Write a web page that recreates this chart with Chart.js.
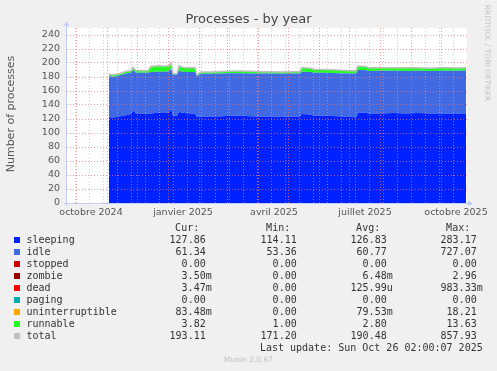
<!DOCTYPE html>
<html>
<head>
<meta charset="utf-8">
<title>Processes - by year</title>
<script src="https://cdn.jsdelivr.net/npm/chart.js@4.4.1/dist/chart.umd.min.js"></script>
<style>
  html, body { margin: 0; padding: 0; background: #f0f0f0; }
  #wrap { position: relative; width: 497px; height: 371px; overflow: hidden; background: #f0f0f0; font-family: 'DejaVu Sans', sans-serif; }
  #chart { position: absolute; left: 0; top: 0; }
  .t { position: absolute; white-space: pre; }
  .mono { font-family: 'DejaVu Sans Mono', monospace; font-size: 10px; line-height: 12px; height: 12px; color: #333; }
</style>
</head>
<body>
<div id="wrap">
  <canvas id="chart" width="497" height="371"></canvas>
  <div class="t" style="left:0;width:497px;top:11px;line-height:16px;text-align:center;font-size:13px;color:#444;">Processes - by year</div>
  <div class="t" style="left:-64px;width:150px;top:107px;height:14px;line-height:14px;text-align:center;font-size:11px;color:#555;transform:rotate(-90deg);">Number of processes</div>
  <div class="t" style="left:427px;width:120px;top:48px;height:10px;line-height:10px;text-align:center;font-size:7.5px;color:#c4c4c4;transform:rotate(90deg);">RRDTOOL / TOBI OETIKER</div>
  <div class="t" style="left:0;width:497px;top:355px;line-height:10px;text-align:center;font-size:7.5px;color:#c0c0c0;">Munin 2.0.67</div>
  <div id="legend"></div>
</div>
<script>
// days counted from 1 Oct 2024 (one pixel per day on the yearly graph)
const days = [33, 38, 44, 50, 55, 57, 60, 66, 72, 75, 82, 88, 93, 95, 97, 101, 103, 107, 113, 119,
  121, 125, 135, 145, 155, 165, 175, 185, 195, 205, 215, 224, 226, 235, 238, 250, 262, 274, 280, 282,
  290, 292, 305, 318, 330, 342, 355, 368, 380, 390];

const sleeping = [122.5, 122, 124, 125.5, 127, 132, 128, 128, 127.5, 128, 129, 128.5, 129, 135, 124, 124.5, 130, 129, 128, 128,
  122.5, 123.5, 123.5, 124, 124.5, 124.5, 124, 123.5, 123.5, 123, 123.5, 123.5, 127, 126.5, 124.5, 124.5, 124, 123, 122.5, 129,
  129, 128, 128, 128.5, 128, 128.5, 128, 128, 128, 127.9];

const idle = [58.5, 58.5, 58.5, 59.5, 59, 58, 58, 58, 58.5, 59, 58.5, 59, 59, 57, 59, 59, 59, 58.5, 59, 59,
  58.5, 61, 61, 61, 61, 61, 61, 61.5, 61.5, 61.5, 61.5, 61.5, 60.5, 60.5, 61.5, 61.5, 61.5, 62, 62.5, 61,
  61, 60.5, 60.8, 60.5, 60.5, 60.5, 60.5, 60.8, 60.8, 61.3];

const runnable = [2.5, 2.5, 2.5, 3, 3, 3.5, 3, 2.8, 3, 8, 8.5, 8, 8, 8, 1.5, 1.5, 7, 6, 6, 6.5,
  2, 2.5, 2.5, 2.8, 3, 3, 3, 2.5, 2.5, 2.5, 2.5, 2.5, 6, 5.5, 4.5, 4.5, 4.5, 4, 4, 5.5,
  5, 4.5, 4.5, 4, 4.5, 4, 4, 4.5, 4, 3.8];

const total = [183.6, 183.1, 185.1, 188.1, 189.1, 193.6, 189.1, 188.9, 189.1, 195.1, 196.1, 195.6, 196.1, 200.1, 184.6, 185.1, 196.1, 193.6, 193.1, 193.6,
  183.1, 187.1, 187.1, 187.9, 188.6, 188.6, 188.1, 187.6, 187.6, 187.1, 187.6, 187.6, 193.6, 192.6, 190.6, 190.6, 190.1, 189.1, 189.1, 195.6,
  195.1, 193.1, 193.4, 193.1, 193.1, 193.1, 192.6, 193.4, 192.9, 193.11];

// x axis: labels sit mid-month, red lines at month starts, grey ones every two weeks
const xLabels = ['octobre 2024', 'janvier 2025', 'avril 2025', 'juillet 2025', 'octobre 2025'];
const xLabelDays = [15, 107, 198, 289, 380];
const monthStarts = [0, 31, 61, 92, 123, 151, 182, 212, 243, 273, 304, 335, 365];
const minorDays = [-1, 13, 27, 41, 55, 69, 83, 97, 111, 125, 139, 153, 167, 181, 195, 209, 223, 237, 251, 265, 279, 293, 307, 321, 335, 349, 363, 377];

// legend table
const names = ['sleeping', 'idle', 'stopped', 'zombie', 'dead', 'paging', 'uninterruptible', 'runnable', 'total'];
const colors = ['#0022ff', '#4169e1', '#cc0000', '#990000', '#ff0000', '#00aaaa', '#ffa500', '#22ff22', '#c0c0c0'];
const curVals = ['127.86', '61.34', '0.00', '3.50m', '3.47m', '0.00', '83.48m', '3.82', '193.11'];
const minVals = ['114.11', '53.36', '0.00', '0.00', '0.00', '0.00', '0.00', '1.00', '171.20'];
const avgVals = ['126.83', '60.77', '0.00', '6.48m', '125.99u', '0.00', '79.53m', '2.80', '190.48'];
const maxVals = ['283.17', '727.07', '0.00', '2.96', '983.33m', '0.00', '18.21', '13.63', '857.93'];

const axisColor = '#c4cbf5';
const majorGrid = 'rgba(236,120,120,0.7)';
const minorGrid = 'rgba(185,185,185,0.6)';

function pts(arr) {
  return arr.map((v, i) => ({ x: days[i], y: v }));
}

function area(label, arr, color, fill) {
  return {
    label: label,
    data: pts(arr),
    stack: 'procs',
    fill: fill,
    backgroundColor: color,
    borderColor: 'rgba(0,0,0,0)',
    borderWidth: 0,
    pointRadius: 0,
    tension: 0
  };
}

const frame = {
  id: 'frame',
  beforeDraw(chart) {
    const { ctx, chartArea: a } = chart;
    ctx.save();
    ctx.fillStyle = '#ffffff';
    ctx.fillRect(a.left, a.top, a.right - a.left, a.bottom - a.top);
    ctx.restore();
  },
  afterDraw(chart) {
    const { ctx, chartArea: a } = chart;
    const x0 = a.left - 0.5, y0 = a.bottom + 0.5;
    ctx.save();
    ctx.strokeStyle = axisColor;
    ctx.fillStyle = axisColor;
    ctx.lineWidth = 1;
    ctx.beginPath();
    ctx.moveTo(x0, a.bottom + 3);
    ctx.lineTo(x0, a.top - 3);
    ctx.moveTo(a.left - 3, y0);
    ctx.lineTo(a.right + 2, y0);
    ctx.stroke();
    ctx.beginPath();
    ctx.moveTo(x0 - 3, a.top - 2);
    ctx.lineTo(x0 + 3, a.top - 2);
    ctx.lineTo(x0, a.top - 7);
    ctx.closePath();
    ctx.fill();
    ctx.beginPath();
    ctx.moveTo(a.right + 1, y0 - 3);
    ctx.lineTo(a.right + 1, y0 + 3);
    ctx.lineTo(a.right + 6, y0);
    ctx.closePath();
    ctx.fill();
    ctx.restore();
  }
};

const xTickSet = Array.from(new Set(monthStarts.concat(minorDays, xLabelDays))).sort((a, b) => a - b);

new Chart(document.getElementById('chart'), {
  type: 'line',
  data: {
    datasets: [
      area('sleeping', sleeping, '#0022ff', 'origin'),
      area('idle', idle, '#4169e1', '-1'),
      area('runnable', runnable, '#22ff22', '-1'),
      {
        label: 'total',
        data: pts(total),
        stack: 'total',
        fill: false,
        borderColor: '#c0c0c0',
        borderWidth: 1.5,
        pointRadius: 0,
        tension: 0,
        order: -1
      }
    ]
  },
  options: {
    responsive: false,
    animation: false,
    events: [],
    layout: { padding: { left: 0, right: 30, top: 28, bottom: 0 } },
    plugins: {
      legend: { display: false },
      tooltip: { enabled: false },
      title: { display: false }
    },
    scales: {
      x: {
        type: 'linear',
        min: -9,
        max: 391,
        afterFit: s => { s.height = 168; s.paddingLeft = 0; s.paddingRight = 0; },
        afterBuildTicks: s => { s.ticks = xTickSet.map(v => ({ value: v })); },
        border: { display: false, dash: [1, 2] },
        grid: {
          z: 1,
          drawTicks: false,
          lineWidth: 1,
          color: ctx => {
            const v = ctx.tick ? ctx.tick.value : null;
            if (monthStarts.includes(v)) return majorGrid;
            if (minorDays.includes(v)) return minorGrid;
            return 'rgba(0,0,0,0)';
          }
        },
        ticks: {
          autoSkip: false,
          maxRotation: 0,
          padding: 4,
          color: '#555',
          font: { family: 'DejaVu Sans', size: 9.5 },
          callback: v => {
            const i = xLabelDays.indexOf(v);
            return i >= 0 ? xLabels[i] : '';
          }
        }
      },
      y: {
        stacked: true,
        min: 0,
        max: 250,
        afterFit: s => { s.width = 67; s.paddingTop = 0; s.paddingBottom = 0; },
        border: { display: false, dash: [1, 2] },
        grid: {
          z: 1,
          drawTicks: false,
          lineWidth: 1,
          color: ctx => {
            const v = ctx.tick ? ctx.tick.value : 0;
            if (v === 0) return 'rgba(0,0,0,0)';
            return v % 20 === 0 ? majorGrid : minorGrid;
          }
        },
        ticks: {
          stepSize: 10,
          padding: 7,
          color: '#555',
          font: { family: 'DejaVu Sans', size: 9.5 },
          callback: v => (v % 20 === 0 && v <= 240 ? String(v) : '')
        }
      }
    }
  },
  plugins: [frame]
});

// legend block under the graph, laid out the way rrdtool prints it
(function buildLegend() {
  const box = document.getElementById('legend');
  const colRight = [205.7, 296.7, 386.7, 476.7];
  const heads = ['Cur:', 'Min:', 'Avg:', 'Max:'];
  const cols = [curVals, minVals, avgVals, maxVals];
  const charW = 6;
  let html = '';
  function cell(text, right, top) {
    return '<div class="t mono" style="right:' + (497 - right).toFixed(1) + 'px;top:' + top + 'px;">' + text + '</div>';
  }
  heads.forEach((h, c) => { html += cell(h, colRight[c] - 6.5, 222); });
  names.forEach((n, i) => {
    const cy = 239.7 + 12 * i;
    const top = (cy - 6).toFixed(1);
    html += '<div class="t" style="left:14px;top:' + (cy - 3).toFixed(1) + 'px;width:6px;height:6px;background:' + colors[i] + ';"></div>';
    html += '<div class="t mono" style="left:26.5px;top:' + top + 'px;">' + n + '</div>';
    cols.forEach((arr, c) => {
      const s = arr[i];
      const suffix = /[a-z]$/.test(s);
      html += cell(s, colRight[c] + (suffix ? charW : 0), top);
    });
  });
  html += cell('Last update: Sun Oct 26 02:00:07 2025', 482.7, (347.7 - 6).toFixed(1));
  box.innerHTML = html;
})();
</script>
</body>
</html>
